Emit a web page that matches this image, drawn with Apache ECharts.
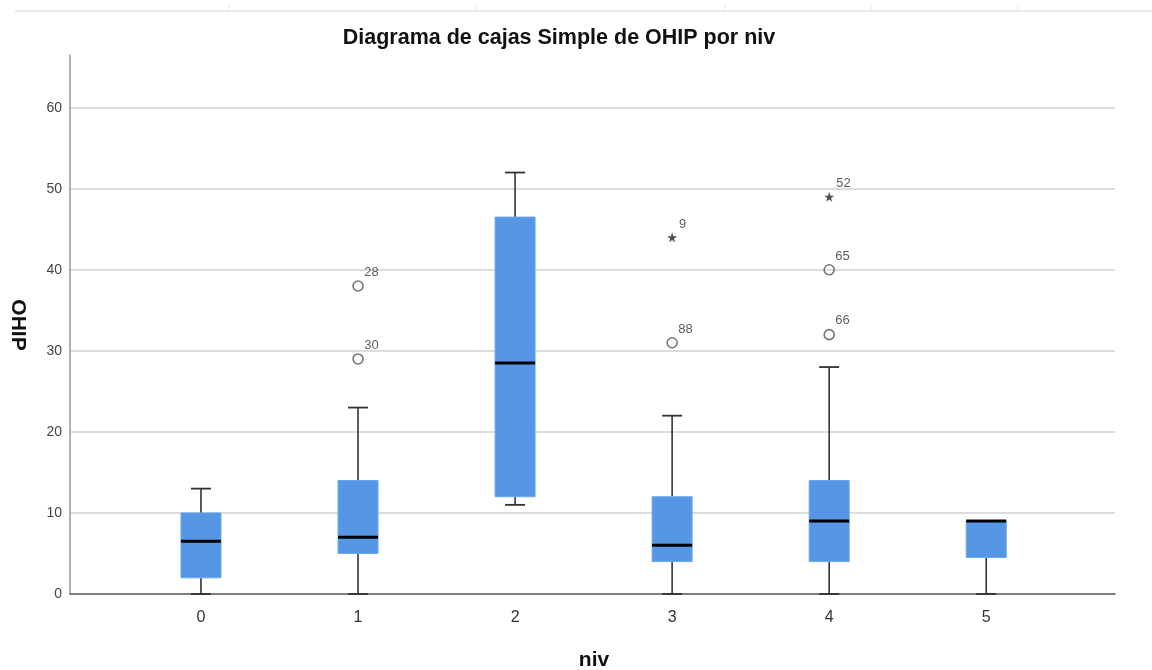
<!DOCTYPE html>
<html>
<head>
<meta charset="utf-8">
<script src="https://cdn.jsdelivr.net/npm/echarts@6/dist/echarts.min.js"></script>
<style>
html,body{margin:0;padding:0;background:#fff;}
#chart{width:1152px;height:670px;}
</style>
</head>
<body>
<div id="chart"></div>
<script>
// ---- data ----
const categories = ['0', '1', '2', '3', '4', '5'];
const whiskerLow  = [0, 0, 11, 0, 0, 0];
const q1          = [2, 5, 12, 4, 4, 4.5];
const median      = [6.5, 7, 28.5, 6, 9, 9];
const q3          = [10, 14, 46.5, 12, 14, 9];
const whiskerHigh = [13, 23, 52, 22, 28, 9];

// outliers (circles)
const outlierGroup = [1, 1, 3, 4, 4];
const outlierValue = [38, 29, 31, 32, 40];
const outlierCase  = ['28', '30', '88', '66', '65'];

// extreme values (stars)
const extremeGroup = [3, 4];
const extremeValue = [44, 49];
const extremeCase  = ['9', '52'];

const yTicks = [0, 10, 20, 30, 40, 50, 60];

// ---- build ----
const boxData = categories.map((c, i) => [i, whiskerLow[i], q1[i], median[i], q3[i], whiskerHigh[i]]);
const outData = outlierGroup.map((g, i) => [g, outlierValue[i], outlierCase[i]]);
const extData = extremeGroup.map((g, i) => [g, extremeValue[i], extremeCase[i]]);

const FONT = "'Liberation Sans', Arial, sans-serif";
const BOX_W = 40, CAP_W = 20;

function renderBox(params, api) {
  const x = api.value(0);
  const pLow = api.coord([x, api.value(1)]);
  const pQ1 = api.coord([x, api.value(2)]);
  const pMed = api.coord([x, api.value(3)]);
  const pQ3 = api.coord([x, api.value(4)]);
  const pHigh = api.coord([x, api.value(5)]);
  const cx = pMed[0];
  const lineStyle = { stroke: '#333', lineWidth: 1.6 };
  const capStyle = { stroke: '#333', lineWidth: 1.8 };
  const children = [];
  if (api.value(5) > api.value(4)) {
    children.push({ type: 'line', shape: { x1: cx, y1: pQ3[1], x2: cx, y2: pHigh[1] }, style: lineStyle });
    children.push({ type: 'line', shape: { x1: cx - CAP_W / 2, y1: pHigh[1], x2: cx + CAP_W / 2, y2: pHigh[1] }, style: capStyle });
  }
  if (api.value(2) > api.value(1)) {
    children.push({ type: 'line', shape: { x1: cx, y1: pQ1[1], x2: cx, y2: pLow[1] }, style: lineStyle });
    children.push({ type: 'line', shape: { x1: cx - CAP_W / 2, y1: pLow[1], x2: cx + CAP_W / 2, y2: pLow[1] }, style: capStyle });
  }
  children.push({ type: 'rect', shape: { x: cx - BOX_W / 2, y: pQ3[1], width: BOX_W, height: pQ1[1] - pQ3[1] },
    style: { fill: '#5597E4', stroke: '#6aa6ec', lineWidth: 1 } });
  children.push({ type: 'line', shape: { x1: cx - BOX_W / 2, y1: pMed[1], x2: cx + BOX_W / 2, y2: pMed[1] },
    style: { stroke: '#000', lineWidth: 3 } });
  return { type: 'group', children };
}

const starPath = 'path://M50,0 L61,35 L98,35 L68,57 L79,91 L50,70 L21,91 L32,57 L2,35 L39,35 Z';

const labelCfg = {
  show: true,
  formatter: p => p.value[2],
  position: [12, -8],
  align: 'left',
  verticalAlign: 'middle',
  color: '#333',
  fontSize: 13,
  fontFamily: FONT
};

const topTicks = [229, 476, 725, 871, 1018];

const chart = echarts.init(document.getElementById('chart'), null, { renderer: 'canvas' });
chart.setOption({
  animation: false,
  backgroundColor: '#fff',
  grid: { left: 70, right: 37, top: 55, bottom: 76, containLabel: false },
  xAxis: {
    type: 'value',
    min: -0.834,
    max: 5.82,
    splitNumber: 6,
    axisLine: { show: true, onZero: false, lineStyle: { color: '#555', width: 1.5 } },
    axisTick: { show: false },
    splitLine: { show: false },
    axisLabel: {
      showMinLabel: false, showMaxLabel: false,
      formatter: v => (Number.isInteger(v) && v >= 0 && v < categories.length) ? categories[v] : '',
      color: '#333', fontSize: 16, fontFamily: FONT, margin: 16
    }
  },
  yAxis: {
    type: 'value',
    min: 0,
    max: 66.5,
    interval: 10,
    axisLine: { show: true, onZero: false, lineStyle: { color: '#999', width: 1.5 } },
    axisTick: { show: false },
    splitLine: { show: true, showMinLine: false, showMaxLine: false, lineStyle: { color: '#d2d2d2', width: 1.6 } },
    axisLabel: {
      showMaxLabel: false,
      formatter: v => (yTicks.indexOf(v) >= 0 ? String(v) : ''),
      color: '#444', fontSize: 14, fontFamily: FONT, margin: 8
    }
  },
  graphic: [
    { type: 'line', shape: { x1: 15, y1: 11, x2: 1152, y2: 11 }, style: { stroke: '#e2e2e2', lineWidth: 1.5 }, silent: true }
  ].concat(topTicks.map(tx => ({ type: 'line', shape: { x1: tx, y1: 5, x2: tx, y2: 11 }, style: { stroke: '#e6e6e6', lineWidth: 1 }, silent: true })))
  .concat([
    { type: 'text', x: 559, y: 38, style: { text: 'Diagrama de cajas Simple de OHIP por niv', font: 'bold 21.5px ' + FONT, fill: '#111', align: 'center', verticalAlign: 'middle' } },
    { type: 'text', x: 18, y: 325, rotation: -Math.PI / 2, style: { text: 'OHIP', font: 'bold 21px ' + FONT, fill: '#111', align: 'center', verticalAlign: 'middle' } },
    { type: 'text', x: 594, y: 660, style: { text: 'niv', font: 'bold 21px ' + FONT, fill: '#111', align: 'center', verticalAlign: 'middle' } }
  ]),
  series: [
    {
      type: 'custom',
      name: 'box',
      renderItem: renderBox,
      encode: { x: 0, y: [1, 2, 3, 4, 5] },
      data: boxData,
      z: 3
    },
    {
      type: 'scatter',
      name: 'outliers',
      symbol: 'circle',
      symbolSize: 10,
      itemStyle: { color: 'rgba(0,0,0,0)', borderColor: '#555', borderWidth: 1.6 },
      label: labelCfg,
      data: outData,
      z: 4
    },
    {
      type: 'scatter',
      name: 'extremes',
      symbol: starPath,
      symbolSize: 10,
      itemStyle: { color: '#222' },
      label: labelCfg,
      data: extData,
      z: 4
    }
  ]
});
</script>
</body>
</html>
